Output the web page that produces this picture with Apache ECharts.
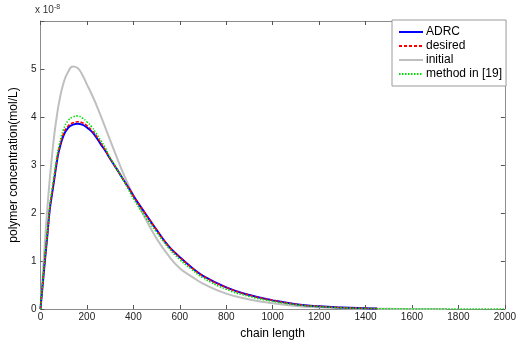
<!DOCTYPE html>
<html>
<head>
<meta charset="utf-8">
<script src="https://cdn.jsdelivr.net/npm/echarts@6/dist/echarts.min.js"></script>
<style>
  html, body { margin: 0; padding: 0; background: #fff; }
  #chart { width: 519px; height: 345px; }
</style>
</head>
<body>
<div id="chart"></div>
<script>
// concentrations are in units of 1e-8 mol/L
const chainLen = [0, 10, 20, 30, 40, 50, 60, 70, 80, 100, 120, 140, 160, 180, 200, 220, 240, 260, 280, 300, 320, 340, 360, 380, 400, 450, 500, 550, 600, 650, 700, 800, 900, 1000, 1100, 1200, 1300, 1400, 1450];
const adrc     = [0, 0.53, 1.05, 1.55, 2.07, 2.40, 2.72, 3.05, 3.30, 3.62, 3.78, 3.84, 3.86, 3.84, 3.78, 3.70, 3.58, 3.43, 3.29, 3.13, 2.98, 2.83, 2.67, 2.52, 2.36, 2.00, 1.65, 1.32, 1.08, 0.87, 0.69, 0.45, 0.29, 0.18, 0.10, 0.055, 0.03, 0.015, 0.01];
const desired  = [0, 0.54, 1.07, 1.57, 2.09, 2.43, 2.75, 3.08, 3.33, 3.66, 3.82, 3.88, 3.90, 3.88, 3.82, 3.73, 3.61, 3.46, 3.30, 3.14, 2.98, 2.83, 2.67, 2.52, 2.36, 2.00, 1.65, 1.32, 1.08, 0.87, 0.69, 0.45, 0.29, 0.18, 0.10, 0.055, 0.03, 0.015, 0.01];

const initLen  = [0, 10, 20, 30, 40, 50, 60, 70, 80, 100, 120, 140, 160, 180, 200, 220, 240, 260, 280, 300, 320, 340, 360, 380, 400, 450, 500, 550, 600, 650, 700, 800, 900, 1000, 1100, 1200, 1300, 1400, 1500, 1600, 1750];
const initial  = [0, 0.72, 1.45, 2.12, 2.70, 3.20, 3.65, 4.00, 4.30, 4.72, 4.95, 5.05, 5.02, 4.88, 4.68, 4.48, 4.26, 4.02, 3.77, 3.52, 3.27, 3.02, 2.79, 2.57, 2.37, 1.90, 1.47, 1.12, 0.85, 0.68, 0.53, 0.32, 0.20, 0.12, 0.065, 0.035, 0.018, 0.008, 0.004, 0.001, 0];

const methodLen = [0, 10, 20, 30, 40, 50, 60, 70, 80, 100, 120, 140, 160, 180, 200, 220, 240, 260, 280, 300, 320, 340, 360, 380, 400, 450, 500, 550, 600, 650, 700, 800, 900, 1000, 1100, 1200, 1300, 1400, 1500, 1600, 1800, 2000];
const method    = [0, 0.58, 1.12, 1.62, 2.15, 2.50, 2.82, 3.15, 3.40, 3.75, 3.93, 4.00, 4.02, 3.98, 3.90, 3.80, 3.66, 3.51, 3.35, 3.15, 2.99, 2.83, 2.66, 2.48, 2.30, 1.93, 1.60, 1.28, 1.03, 0.83, 0.65, 0.41, 0.26, 0.16, 0.09, 0.05, 0.025, 0.012, 0.005, 0.002, 0, 0];

const xTicks = [0, 200, 400, 600, 800, 1000, 1200, 1400, 1600, 1800, 2000];
const yTicks = [0, 1, 2, 3, 4, 5];

const pairs = (xs, ys) => xs.map((x, i) => [x, ys[i]]);

const chart = echarts.init(document.getElementById('chart'));
const axisColor = '#8c8c8c';
const font = 'Liberation Sans, Arial, sans-serif';

// inner box axes (top / right) with ticks only
const boxTick = { inside: true, length: 4, lineStyle: { color: '#555' } };

chart.setOption({
    animation: false,
    grid: { left: 37, right: 12, top: 21, bottom: 29, containLabel: false },
    legend: {
        orient: 'vertical',
        left: 392,
        top: 20,
        backgroundColor: '#fff',
        borderColor: '#9a9a9a',
        borderWidth: 1,
        padding: [6, 4, 6, 6],
        itemWidth: 24,
        itemHeight: 10,
        itemGap: 2,
        itemStyle: { opacity: 0 },
        textStyle: { fontFamily: font, fontSize: 12, color: '#000', padding: [0, 0, 0, -2] },
        data: ['ADRC', 'desired', 'initial', 'method in [19]']
    },
    xAxis: [{
        type: 'value', min: 0, max: 2000, interval: 200,
        name: 'chain length', nameLocation: 'middle', nameGap: 19,
        nameTextStyle: { fontFamily: font, fontSize: 12, color: '#000' },
        axisLine: { onZero: false, lineStyle: { color: axisColor, width: 1 } },
        axisTick: boxTick,
        axisLabel: { fontFamily: font, fontSize: 10, color: '#222', margin: 3,
            formatter: v => xTicks.includes(v) ? String(v) : '' },
        splitLine: { show: false }
    }, {
        type: 'value', min: 0, max: 2000, interval: 200, position: 'top',
        axisLine: { show: true, onZero: false, lineStyle: { color: axisColor } },
        axisTick: boxTick,
        axisLabel: { show: false }, splitLine: { show: false }
    }],
    yAxis: [{
        type: 'value', min: 0, max: 6, interval: 1,
        name: 'polymer concentration(mol/L)', nameLocation: 'middle', nameGap: 17,
        nameTextStyle: { fontFamily: font, fontSize: 12, color: '#000' },
        axisLine: { show: true, onZero: false, lineStyle: { color: axisColor, width: 1 } },
        axisTick: Object.assign({ show: true }, boxTick),
        axisLabel: { fontFamily: font, fontSize: 10, color: '#222', margin: 4,
            formatter: v => yTicks.includes(v) ? String(v) : '' },
        splitLine: { show: false }
    }, {
        type: 'value', min: 0, max: 6, interval: 1, position: 'right',
        axisLine: { show: true, onZero: false, lineStyle: { color: axisColor } },
        axisTick: Object.assign({ show: true }, boxTick),
        axisLabel: { show: false }, splitLine: { show: false }
    }],
    graphic: [{
        type: 'text', left: 35, top: 4,
        style: {
            text: 'x 10{s|-8}',
            rich: { s: { fontSize: 7, verticalAlign: 'top', padding: [0, 0, 6, 0] } },
            fontFamily: font, fontSize: 10, fill: '#333'
        }
    }],
    series: [{
        name: 'initial', type: 'line', smooth: 0.5, symbol: 'none', z: 2,
        data: pairs(initLen, initial),
        lineStyle: { color: '#bfbfbf', width: 2 }, itemStyle: { color: '#bfbfbf' }
    }, {
        name: 'ADRC', type: 'line', smooth: 0.5, symbol: 'none', z: 3,
        data: pairs(chainLen, adrc),
        lineStyle: { color: '#0000ff', width: 2 }, itemStyle: { color: '#0000ff' }
    }, {
        name: 'desired', type: 'line', smooth: 0.5, symbol: 'none', z: 4,
        data: pairs(chainLen, desired),
        lineStyle: { color: '#ff0000', width: 1.5, type: [3, 2] }, itemStyle: { color: '#ff0000' }
    }, {
        name: 'method in [19]', type: 'line', smooth: 0.5, symbol: 'none', z: 5,
        data: pairs(methodLen, method),
        lineStyle: { color: '#00dd00', width: 1.5, type: [1.5, 1.5] }, itemStyle: { color: '#00dd00' }
    }]
});
</script>
</body>
</html>
